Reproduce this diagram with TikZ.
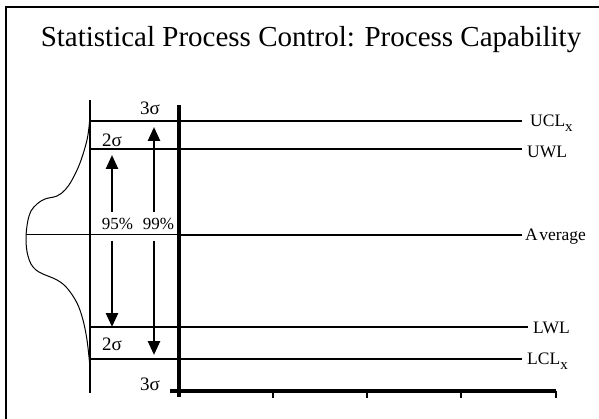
\documentclass[tikz,border=0pt]{standalone}
\usepackage{fontspec}
\setmainfont{Liberation Serif}
\usetikzlibrary{arrows.meta}
\newcommand{\subx}{\raisebox{-5pt}{\fontsize{15}{15}\selectfont x}}
\tikzset{
  frame/.style={line width=2pt},
  axisline/.style={line width=3.6pt},
  tickline/.style={line width=1.6pt},
  thickctl/.style={line width=2.5pt},
  thinctl/.style={line width=1.2pt},
  guide/.style={line width=1.2pt},
  lbl/.style={font=\fontsize{17.5}{19}\selectfont, inner sep=0pt, anchor=base west},
  sig/.style={font=\fontsize{19}{20}\selectfont, inner sep=0pt, anchor=base west},
  pct/.style={font=\fontsize{17}{18}\selectfont, inner sep=0pt},
  bigarrow/.style={line width=2.6pt, -{Triangle[width=12pt,length=14pt]}},
}
\begin{document}
\begin{tikzpicture}[x=1pt,y=-1pt]
\useasboundingbox (0,0) rectangle (599,419);

% partial frame
\draw[frame] (6,419) -- (6,7) -- (599,7);

% title
\node[font=\fontsize{29}{32}\selectfont, inner sep=0pt] (title) at (311,40) {Statistical Process Control: Process Capability};

% distribution curve, lying on its side
\draw[line width=1pt] plot[smooth, tension=0.6] coordinates {
  (89.5,122) (87,140) (80,163) (72,180) (65,190) (57,196) (45,199) (37,204)
  (31,211) (28,220) (26.5,230) (26,238) (26.5,248) (28,256) (31,264) (36,270)
  (43,274) (57,280) (67,288) (77,303) (83,320) (87,340) (89.5,362)};

% left guide line
\draw[guide] (90,100) -- (90,393);

% control lines
\coordinate (ucl0) at (90,121);  \coordinate (ucl1) at (522,121);
\coordinate (uwl0) at (90,149);  \coordinate (uwl1) at (522,149);
\coordinate (avg0) at (26,235);  \coordinate (avgA) at (179,235); \coordinate (avg1) at (522,235);
\coordinate (lwl0) at (90,327);  \coordinate (lwl1) at (528,327);
\coordinate (lcl0) at (90,359);  \coordinate (lcl1) at (522,359);

\draw[line width=1.6pt] (ucl0) -- (179,121);
\draw[thickctl] (179,121) -- (ucl1);
\draw[line width=2pt] (uwl0) -- (179,149);
\draw[line width=2.8pt] (179,149) -- (uwl1);
\draw[line width=1pt] (avg0) -- (avgA);
\draw[thickctl] (avgA) -- (avg1);
\draw[thinctl] (lwl0) -- (lwl1);
\draw[line width=1.8pt] (lcl0) -- (179,359);
\draw[thickctl] (179,359) -- (lcl1);

% axes
\coordinate (ytop) at (179,105);
\coordinate (ybot) at (179,397);
\coordinate (xl) at (170,391);
\coordinate (xr) at (556,391);
\draw[axisline] (ytop) -- (ybot);
\draw[axisline] (xl) -- (xr);
\foreach \tx in {273,367,461,556}
  \draw[tickline] (\tx,391) -- (\tx,398);

% line labels
\node[lbl] (uclL) at (530,127) {UCL\subx};
\node[lbl] (uwlL) at (527,158) {UWL};
\node[lbl] (avgL) at (525,241) {A\kern1.5pt verage};
\node[lbl] (lwlL) at (533,333) {LWL};
\node[lbl] (lclL) at (527,364) {LCL\subx};

% sigma labels
\node[sig] (s3t) at (140,115) {3σ};
\node[sig] (s2t) at (102,147) {2σ};
\node[sig] (s2b) at (102,350) {2σ};
\node[sig] (s3b) at (140,390) {3σ};

% coverage labels and arrows
\node[pct] (p95) at (117.5,224) {95\%};
\node[pct] (p99) at (158.5,224) {99\%};

\coordinate (a95u) at (112,155);
\coordinate (a95d) at (112,327);
\coordinate (a99u) at (154,127);
\coordinate (a99d) at (154,355);
\draw[bigarrow] (112,212) -- (a95u);
\draw[bigarrow] (112,241) -- (a95d);
\draw[bigarrow] (154,212) -- (a99u);
\draw[bigarrow] (154,241) -- (a99d);
\end{tikzpicture}
\end{document}
